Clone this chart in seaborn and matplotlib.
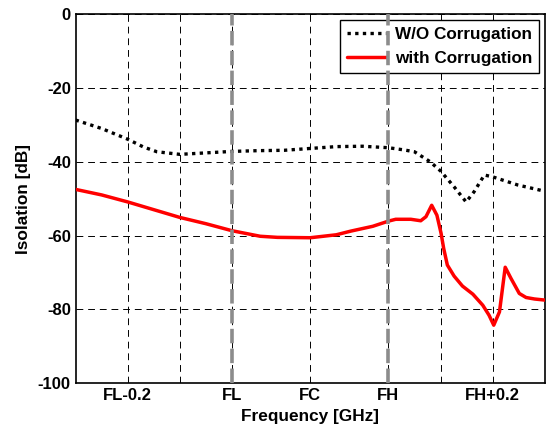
import pandas as pd
import matplotlib
matplotlib.use('Agg')
import matplotlib.pyplot as plt
import seaborn as sns

# frequency offset from FL in GHz
freq_wo = [-0.3, -0.25, -0.2, -0.17, -0.144, -0.1, -0.05, 0, 0.05, 0.1, 0.15, 0.2, 0.25,
           0.3, 0.33, 0.35, 0.38, 0.40, 0.426, 0.449, 0.464, 0.484, 0.5, 0.548, 0.6]
iso_wo = [-28.7, -31.0, -33.9, -36.0, -37.3, -38.0, -37.6, -37.2, -37.0, -36.9, -36.4, -35.9, -35.8,
          -36.2, -36.8, -37.3, -40.0, -42.5, -46.8, -50.9, -48.2, -43.6, -44.1, -46.3, -48.0]

freq_w = [-0.3, -0.25, -0.2, -0.15, -0.1, -0.05, 0, 0.054, 0.087, 0.15, 0.2, 0.228, 0.27, 0.3,
          0.314, 0.343, 0.362, 0.372, 0.383, 0.393, 0.401, 0.406, 0.413, 0.426, 0.442, 0.462,
          0.481, 0.493, 0.502, 0.513, 0.524, 0.535, 0.551, 0.564, 0.580, 0.6]
iso_w = [-47.5, -49.0, -50.9, -53.0, -55.1, -56.8, -58.7, -60.2, -60.5, -60.6, -59.8, -58.8, -57.5, -56.1,
         -55.6, -55.6, -56.0, -54.9, -51.8, -54.5, -59.4, -63.5, -68.0, -71.0, -73.7, -75.9,
         -78.9, -81.6, -84.3, -80.7, -68.6, -71.6, -75.7, -76.8, -77.2, -77.5]

xticks = [-0.2, -0.1, 0, 0.15, 0.3, 0.4, 0.5]
xlabels = ['FL-0.2', '', 'FL', 'FC', 'FH', '', 'FH+0.2']
band_edges = [0, 0.3]  # FL, FH

sns.set_style('white')
plt.rcParams['font.family'] = ['Liberation Sans', 'DejaVu Sans']
plt.rcParams['font.weight'] = 'bold'
plt.rcParams['axes.unicode_minus'] = False
plt.rcParams['text.color'] = 'black'
plt.rcParams['axes.labelcolor'] = 'black'

df1 = pd.DataFrame({'f': freq_wo, 'iso': iso_wo})
df2 = pd.DataFrame({'f': freq_w, 'iso': iso_w})

fig = plt.figure(figsize=(5.52, 4.29), dpi=100)
ax = fig.add_axes([0.137, 0.107, 0.85, 0.86])

sns.lineplot(data=df1, x='f', y='iso', ax=ax, color='black', lw=2.4,
             linestyle=(0, (1, 1.3)), label='W/O Corrugation', zorder=3)
sns.lineplot(data=df2, x='f', y='iso', ax=ax, color='red', lw=2.5,
             label='with Corrugation', zorder=3)

ax.set_xlim(-0.3, 0.6)
ax.set_ylim(-100, 0)
ax.set_xticks(xticks)
ax.set_xticklabels(xlabels)
ax.set_yticks(range(-100, 1, 20))
ax.grid(True, color='black', lw=0.7, linestyle=(0, (7, 5)))
ax.tick_params(direction='in', length=4, width=1, labelsize=12, colors='black')
for lbl in ax.get_xticklabels() + ax.get_yticklabels():
    lbl.set_fontweight('bold')
for s in ax.spines.values():
    s.set_color('black')
    s.set_linewidth(1.2)

for xe in band_edges:
    ax.axvline(xe, color='#8c8c8c', lw=2.6, linestyle=(0, (4, 1.5)), zorder=10)

ax.set_xlabel('Frequency [GHz]', fontsize=12.4, fontweight='bold', labelpad=4)
ax.set_ylabel('Isolation [dB]', fontsize=12.4, fontweight='bold', labelpad=5)

leg = ax.legend(loc='upper right', fontsize=12.3, frameon=True, fancybox=False,
                edgecolor='black', framealpha=1, borderaxespad=0.35, handlelength=2.3,
                handletextpad=0.5, borderpad=0.4, labelspacing=0.55)
leg.get_frame().set_linewidth(1.0)
leg.set_zorder(5)
for t in leg.get_texts():
    t.set_fontweight('bold')

fig.savefig('out.png', dpi=100)
